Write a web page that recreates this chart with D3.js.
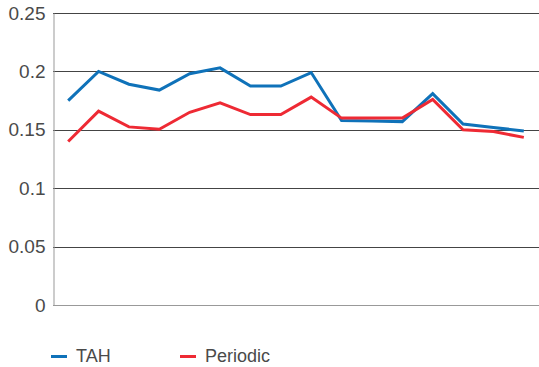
<!DOCTYPE html>
<html>
<head>
<meta charset="utf-8">
<script src="https://cdn.jsdelivr.net/npm/d3@7"></script>
<style>
  body { margin: 0; background: #fff; }
  svg text { font-family: "Liberation Sans", Arial, sans-serif; fill: #4a4a4a; }
</style>
</head>
<body>
<svg id="chart"></svg>
<script>
const categories = d3.range(1, 17);
const tah      = [0.175, 0.200, 0.189, 0.184, 0.198, 0.203, 0.1875, 0.1875, 0.199, 0.158, 0.1575, 0.157, 0.181, 0.155, 0.152, 0.149];
const periodic = [0.140, 0.166, 0.1525, 0.1505, 0.165, 0.173, 0.163, 0.163, 0.178, 0.160, 0.160, 0.160, 0.176, 0.150, 0.1485, 0.1435];
const yTicks = [0, 0.05, 0.1, 0.15, 0.2, 0.25];
const seriesNames = ['TAH', 'Periodic'];
const colors = ['#0f72b9', '#ee2a34'];

const width = 539, height = 367;
const margin = {top: 13, right: 0, bottom: 62, left: 53};

const svg = d3.select('#chart')
  .attr('width', width)
  .attr('height', height);

const chart = svg.append('g')
  .attr('transform', `translate(${margin.left}, ${margin.top})`);

const w = width - margin.left - margin.right;
const h = height - margin.top - margin.bottom;

const x = d3.scalePoint()
  .domain(categories)
  .range([0, w])
  .padding(0.5);

const y = d3.scaleLinear()
  .domain([0, 0.25])
  .range([h, 0]);

// gridlines
chart.append('g')
  .selectAll('line')
  .data(yTicks.filter(d => d > 0))
  .join('line')
    .attr('x1', 0)
    .attr('x2', w)
    .attr('y1', d => Math.round(y(d)) + 0.5)
    .attr('y2', d => Math.round(y(d)) + 0.5)
    .attr('stroke', '#444')
    .attr('stroke-width', 1);

// baseline + left axis
chart.append('line')
  .attr('x1', 0).attr('x2', w)
  .attr('y1', Math.round(h) + 0.5).attr('y2', Math.round(h) + 0.5)
  .attr('stroke', '#999');

const yAxis = d3.axisLeft(y)
  .tickValues(yTicks)
  .tickFormat(d => d3.format('')(+d.toFixed(2)))
  .tickSize(0)
  .tickPadding(8);

const yAxisG = chart.append('g')
  .attr('transform', 'translate(0.5,0)')
  .call(yAxis);
yAxisG.select('.domain').attr('stroke', '#999');
yAxisG.selectAll('text')
  .style('font-size', '19px')
  .attr('fill', '#4a4a4a');

// lines
const line = d3.line()
  .x((d, i) => x(categories[i]))
  .y(d => y(d));

[tah, periodic].forEach((s, i) => {
  chart.append('path')
    .datum(s)
    .attr('fill', 'none')
    .attr('stroke', colors[i])
    .attr('stroke-width', 3)
    .attr('stroke-linejoin', 'miter')
    .attr('d', line);
});

// legend
const legend = svg.append('g');
const legendX = [51, 180];
seriesNames.forEach((name, i) => {
  legend.append('line')
    .attr('x1', legendX[i]).attr('x2', legendX[i] + 16)
    .attr('y1', 356.5).attr('y2', 356.5)
    .attr('stroke', colors[i])
    .attr('stroke-width', 3);
  legend.append('text')
    .attr('x', legendX[i] + 25)
    .attr('y', 362)
    .style('font-size', '18px')
    .text(name);
});
</script>
</body>
</html>
